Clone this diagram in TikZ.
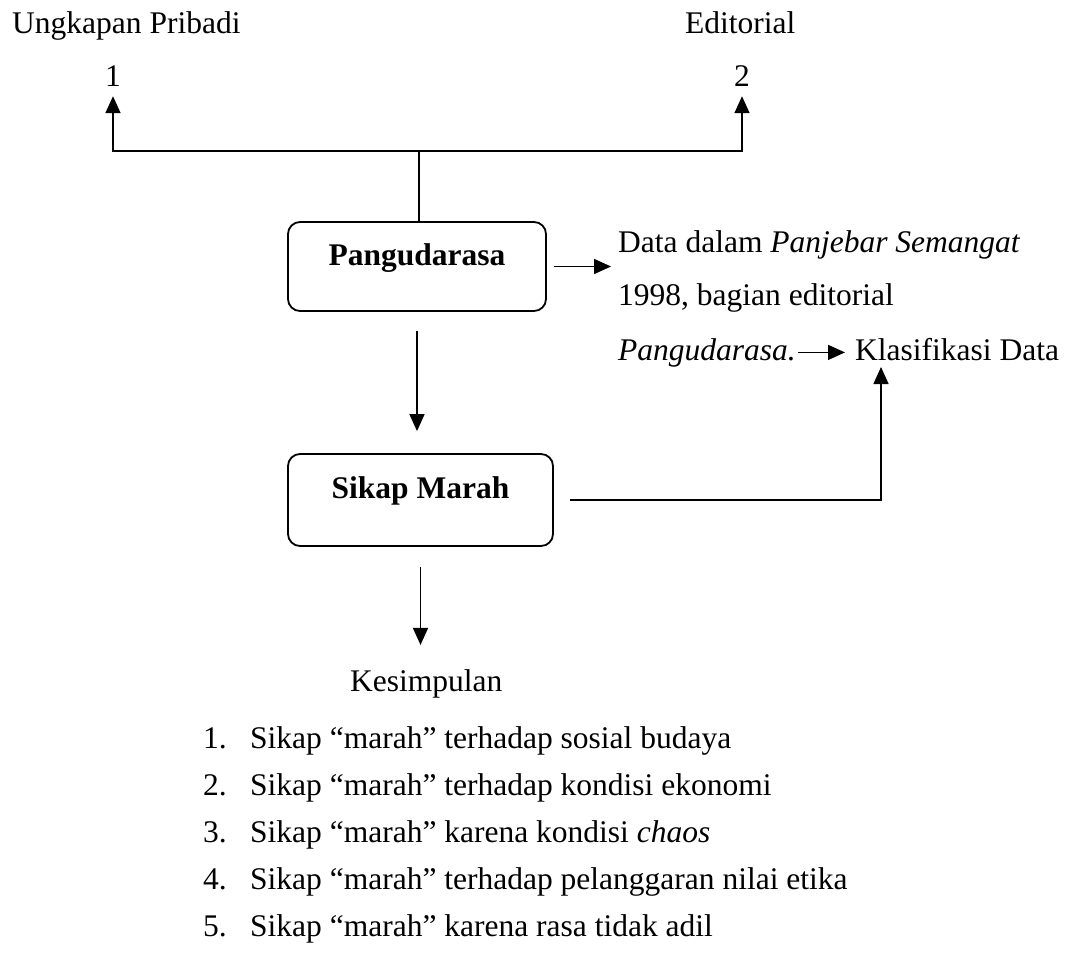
\documentclass[tikz,border=0pt]{standalone}
\usepackage{fontspec}
\setmainfont{Liberation Serif}
\usetikzlibrary{arrows.meta}
\begin{document}
\begin{tikzpicture}[x=1pt,y=-1pt,
  font=\fontsize{31.5}{38}\selectfont,
  txt/.style={inner sep=0pt, anchor=base west},
  num/.style={inner sep=0pt, anchor=base},
  boxnode/.style={draw, line width=1.8pt, rounded corners=12pt, inner sep=0pt,
    font=\fontsize{31.5}{38}\selectfont\bfseries, align=center},
  conn/.style={line width=1.6pt},
  arr/.style={conn, -{Triangle[width=15pt,length=17pt]}}]
\useasboundingbox (0,0) rectangle (1068,966);

% top labels
\node[txt] (ung) at (12,34) {Ungkapan Pribadi};
\node[txt] (edi) at (685,34) {Editorial};
\node[num] (one) at (113,86) {1};
\node[num] (two) at (742,86) {2};

% boxes
\node[boxnode, minimum width=258pt, minimum height=89pt, text height=20pt, text depth=23pt] (pang) at (417,266.5) {Pangudarasa};
\node[boxnode, minimum width=265pt, minimum height=92pt, text height=20pt, text depth=24pt] (sik) at (420.5,500) {Sikap Marah};

% right texts
\node[txt] (d1) at (618,252) {Data dalam \textit{Panjebar Semangat}};
\node[txt] (d2) at (618,305) {1998, bagian editorial};
\node[txt] (d3) at (618,360) {\textit{Pangudarasa.}};
\node[txt] (kla) at (855,360) {Klasifikasi Data};

% conclusion
\node[txt] (kes) at (350,691) {Kesimpulan};
\node[txt] (n1) at (203,748) {1.};
\node[txt] (i1) at (250,748) {Sikap “marah” terhadap sosial budaya};
\node[txt] (n2) at (203,795) {2.};
\node[txt] (i2) at (250,795) {Sikap “marah” terhadap kondisi ekonomi};
\node[txt] (n3) at (203,842) {3.};
\node[txt] (i3) at (250,842) {Sikap “marah” karena kondisi \textit{chaos}};
\node[txt] (n4) at (203,889) {4.};
\node[txt] (i4) at (250,889) {Sikap “marah” terhadap pelanggaran nilai etika};
\node[txt] (n5) at (203,936) {5.};
\node[txt] (i5) at (250,936) {Sikap “marah” karena rasa tidak adil};

% connectors
\coordinate (jn) at (419,151);
\draw[conn] (jn |- pang.north) -- (jn);
\draw[arr, shorten >=10pt] (jn) -| (one.south);
\draw[arr, shorten >=10pt] (jn) -| (two.south);
\draw[arr, shorten <=7pt, shorten >=7pt] (pang.east) -- (pang.east -| d1.west);
\draw[arr, shorten <=2pt, shorten >=10pt] (d3.east) -- (d3.east -| kla.west);
\draw[arr, shorten <=19pt, shorten >=22pt] (pang.south) -- (pang.south |- sik.north);
\coordinate (kt) at (881,367);
\draw[arr, shorten <=16pt] (sik.east) -| (kt);
\draw[arr, shorten <=20pt, shorten >=24pt] (sik.south) -- (sik.south |- kes.north);
\end{tikzpicture}
\end{document}
